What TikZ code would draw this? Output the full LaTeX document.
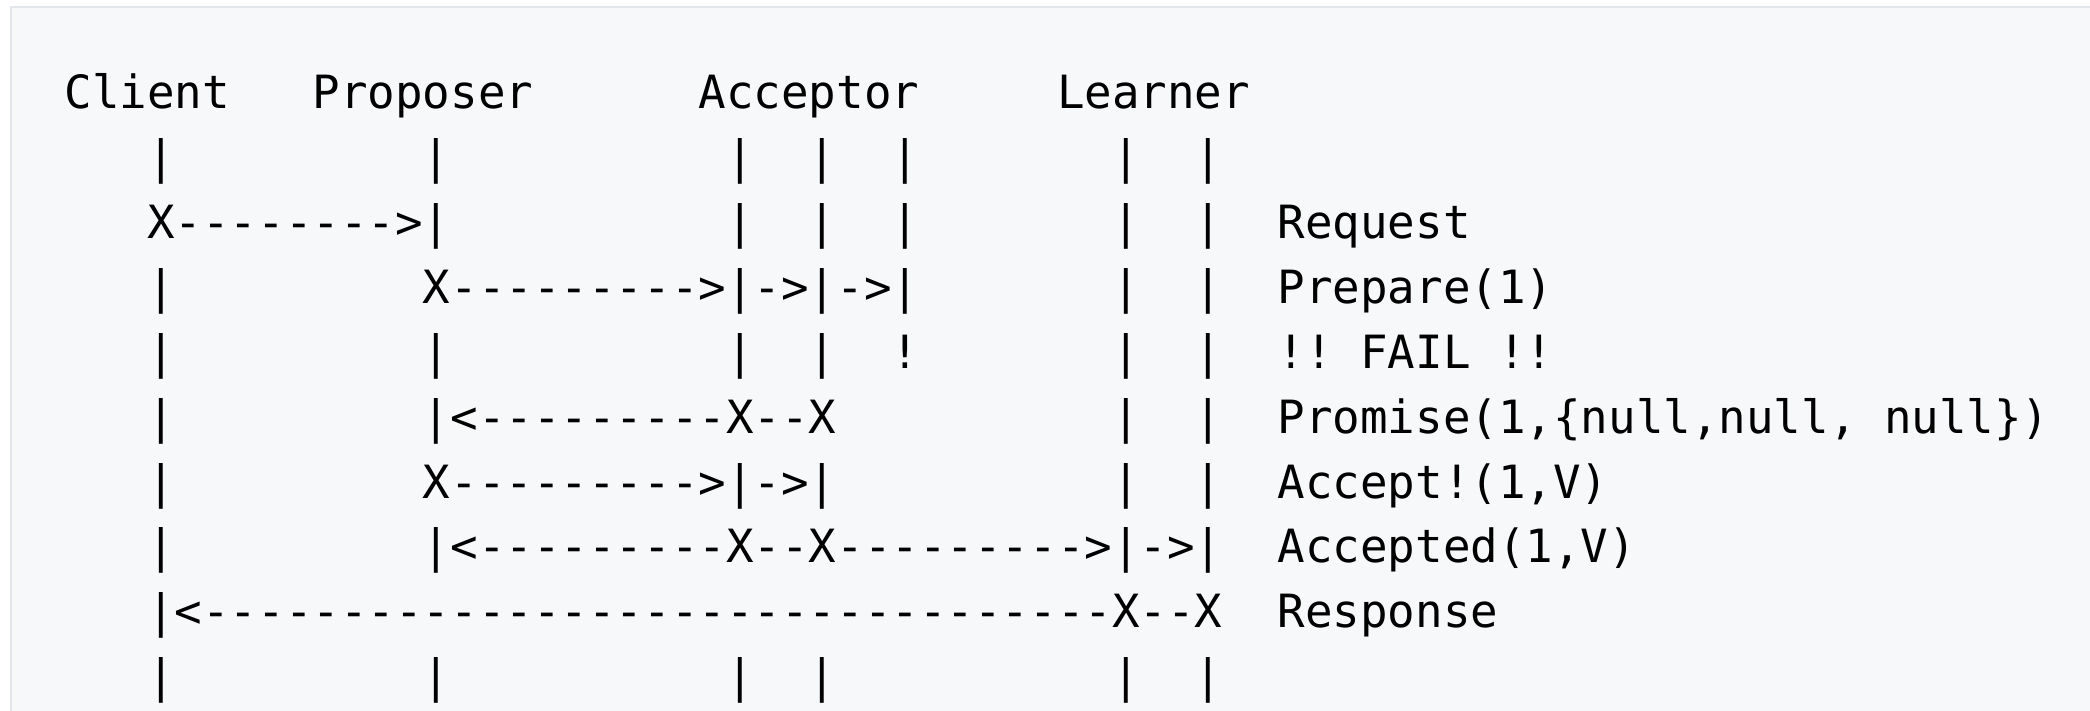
\documentclass[tikz,border=0pt]{standalone}
\usepackage{fontspec}
\setmonofont{DejaVu Sans Mono}
\definecolor{boxfill}{HTML}{F6F8FA}
\definecolor{boxline}{HTML}{E3E6EA}
\tikzset{seg/.style={font=\ttfamily\fontsize{22.9pt}{28pt}\selectfont, inner sep=0pt, outer sep=0pt, anchor=base west, text=black}}
\newcommand\seg[4]{\node[seg] (#1) at ({64.5+#2*27.57},{109+#3*64.85}) {#4};}
\begin{document}
\begin{tikzpicture}[x=0.5pt,y=-0.5pt]
\useasboundingbox (0,0) rectangle (2090,711);
\fill[white] (0,0) rectangle (2090,711);
\draw[fill=boxfill, draw=boxline, line width=1pt] (11,7) rectangle (2120,740);
% header
\seg{hClient}{0}{0}{Client}
\seg{hProposer}{9}{0}{Proposer}
\seg{hAcceptor}{23}{0}{Acceptor}
\seg{hLearner}{36}{0}{Learner}
% row 1
\seg{a1}{3}{1}{|}\seg{b1}{13}{1}{|}\seg{c1}{24}{1}{|}\seg{d1}{27}{1}{|}\seg{e1}{30}{1}{|}\seg{f1}{38}{1}{|}\seg{g1}{41}{1}{|}
% row 2
\seg{a2}{3}{2}{X-------->|}\seg{c2}{24}{2}{|}\seg{d2}{27}{2}{|}\seg{e2}{30}{2}{|}\seg{f2}{38}{2}{|}\seg{g2}{41}{2}{|}
\seg{l2}{44}{2}{Request}
% row 3
\seg{a3}{3}{3}{|}\seg{b3}{13}{3}{X--------->|->|->|}\seg{f3}{38}{3}{|}\seg{g3}{41}{3}{|}
\seg{l3}{44}{3}{Prepare(1)}
% row 4
\seg{a4}{3}{4}{|}\seg{b4}{13}{4}{|}\seg{c4}{24}{4}{|}\seg{d4}{27}{4}{|}\seg{e4}{30}{4}{!}\seg{f4}{38}{4}{|}\seg{g4}{41}{4}{|}
\seg{l4a}{44}{4}{!!}\seg{l4b}{47}{4}{FAIL}\seg{l4c}{52}{4}{!!}
% row 5
\seg{a5}{3}{5}{|}\seg{b5}{13}{5}{|<---------X--X}\seg{f5}{38}{5}{|}\seg{g5}{41}{5}{|}
\seg{l5a}{44}{5}{Promise(1,\{null,null,}\seg{l5b}{66}{5}{null\})}
% row 6
\seg{a6}{3}{6}{|}\seg{b6}{13}{6}{X--------->|->|}\seg{f6}{38}{6}{|}\seg{g6}{41}{6}{|}
\seg{l6}{44}{6}{Accept!(1,V)}
% row 7
\seg{a7}{3}{7}{|}\seg{b7}{13}{7}{|<---------X--X--------->|->|}
\seg{l7}{44}{7}{Accepted(1,V)}
% row 8
\seg{a8}{3}{8}{|<---------------------------------X--X}
\seg{l8}{44}{8}{Response}
% row 9
\seg{a9}{3}{9}{|}\seg{b9}{13}{9}{|}\seg{c9}{24}{9}{|}\seg{d9}{27}{9}{|}\seg{f9}{38}{9}{|}\seg{g9}{41}{9}{|}
\end{tikzpicture}
\end{document}
